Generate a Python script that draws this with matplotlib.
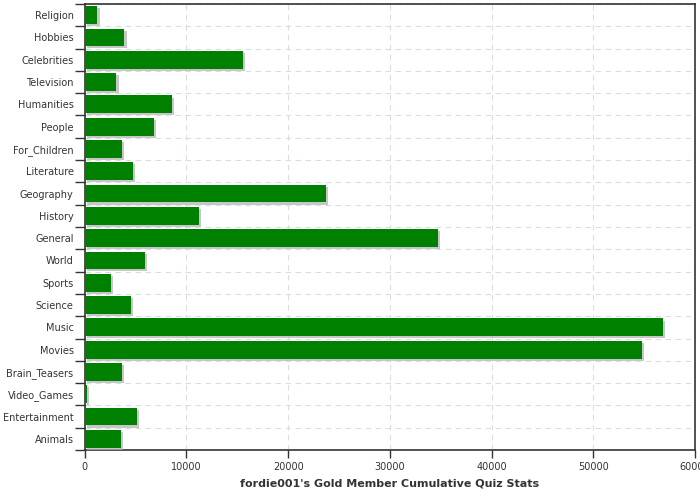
import matplotlib
matplotlib.use("Agg")
import matplotlib.pyplot as plt
import matplotlib.patheffects as pe
import numpy as np

categories = [
    "Religion", "Hobbies", "Celebrities", "Television", "Humanities",
    "People", "For_Children", "Literature", "Geography", "History",
    "General", "World", "Sports", "Science", "Music", "Movies",
    "Brain_Teasers", "Video_Games", "Entertainment", "Animals",
]
scores = [
    1250, 3910, 15540, 3120, 8540,
    6850, 3700, 4700, 23700, 11250,
    34700, 5950, 2550, 4550, 56850, 54750,
    3700, 250, 5150, 3520,
]
x_ticks = [0, 10000, 20000, 30000, 40000, 50000, 60000]

fig = plt.figure(figsize=(7, 5), dpi=100)
ax = fig.add_axes([0.121, 0.1, 0.872, 0.892])

edge = "#333333"
pos = np.arange(len(categories))
bars = ax.barh(pos, scores, height=0.8, color="#008000", zorder=3)
for b in bars:
    b.set_path_effects([
        pe.SimplePatchShadow(offset=(1.5, -1.5), shadow_rgbFace="#b0b0b0", alpha=0.7),
        pe.Normal(),
    ])

ax.set_ylim(len(categories) - 0.5, -0.5)
ax.set_xlim(0, 60000)

# category labels in the middle, ticks on the band edges
ax.set_yticks(pos)
ax.set_yticklabels(categories, fontsize=7, color=edge)
ax.tick_params(axis="y", which="major", length=0, pad=8)
ax.set_yticks(np.arange(len(categories) + 1) - 0.5, minor=True)
ax.tick_params(axis="y", which="minor", length=7, width=1, color=edge)

ax.set_xticks(x_ticks)
ax.set_xticklabels([str(t) for t in x_ticks], fontsize=7, color=edge)
ax.tick_params(axis="x", length=6, width=1, color=edge, pad=3)

ax.grid(True, axis="x", which="major", color="#d8dee0", linestyle=(0, (5, 4)), linewidth=0.8, zorder=0)
ax.grid(True, axis="y", which="minor", color="#d8dee0", linestyle=(0, (5, 4)), linewidth=0.8, zorder=0)
ax.set_axisbelow(True)

for s in ax.spines.values():
    s.set_color(edge)
    s.set_linewidth(1.2)

ax.set_xlabel("fordie001's Gold Member Cumulative Quiz Stats", fontsize=8,
              fontweight="bold", color=edge, labelpad=4)

fig.savefig("out.png", dpi=100)
